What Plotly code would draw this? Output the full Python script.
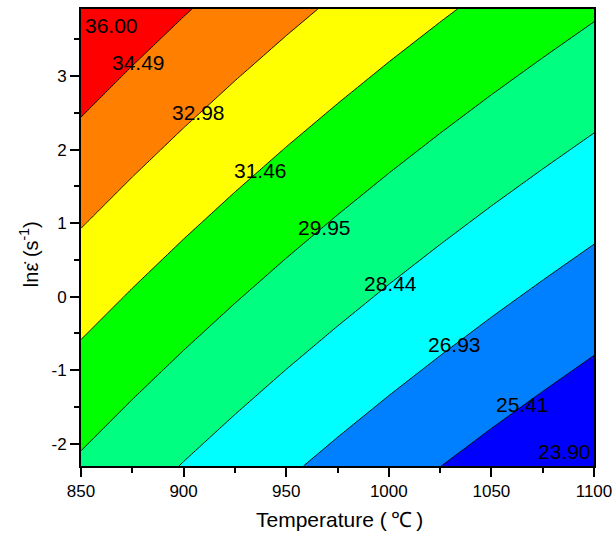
import plotly.graph_objects as go

# Temperature (°C) columns and ln(strain rate) rows of the grid
temperature = [850, 875, 900, 925, 950, 975, 1000, 1025, 1050, 1075, 1100]
ln_rate = [-2.303, -1, 0, 1, 2, 3, 3.912]

# values (one row per ln_rate entry)
z_row_m2303 = [29.743, 29.045, 28.377, 27.737, 27.123, 26.535, 25.968, 25.425, 24.901, 24.398, 23.909]
z_row_m1 = [31.046, 30.348, 29.680, 29.040, 28.426, 27.838, 27.271, 26.728, 26.204, 25.701, 25.212]
z_row_0 = [32.046, 31.348, 30.680, 30.040, 29.426, 28.838, 28.271, 27.728, 27.204, 26.701, 26.212]
z_row_1 = [33.046, 32.348, 31.680, 31.040, 30.426, 29.838, 29.271, 28.728, 28.204, 27.701, 27.212]
z_row_2 = [34.046, 33.348, 32.680, 32.040, 31.426, 30.838, 30.271, 29.728, 29.204, 28.701, 28.212]
z_row_3 = [35.046, 34.348, 33.680, 33.040, 32.426, 31.838, 31.271, 30.728, 30.204, 29.701, 29.212]
z_row_3912 = [35.958, 35.260, 34.592, 33.952, 33.338, 32.750, 32.183, 31.640, 31.116, 30.613, 30.124]

levels_start = 23.90
levels_end = 36.00
levels_step = 1.5125

# contour labels as shown in the picture (text, temperature, ln rate)
label_text = ["36.00", "34.49", "32.98", "31.46", "29.95", "28.44", "26.93", "25.41", "23.90"]
label_t = [865.0, 878.1, 907.3, 937.4, 968.7, 1000.7, 1032.2, 1065.0, 1085.5]
label_y = [3.694, 3.191, 2.503, 1.709, 0.942, 0.185, -0.648, -1.465, -2.104]

band_colors = ["#0000FF", "#0080FF", "#00FFFF", "#00FF80", "#00FF00", "#FFFF00", "#FF8000", "#FF0000"]

z = [z_row_m2303, z_row_m1, z_row_0, z_row_1, z_row_2, z_row_3, z_row_3912]

# stepwise colorscale matching plotly's fill colour mapping (nc = 9 levels)
nc = 9
colorscale = []
for k, c in enumerate(band_colors):
    lo = 0.0 if k == 0 else (k + 0.5) / nc
    hi = 1.0 if k == len(band_colors) - 1 else (k + 1.5) / nc
    colorscale.append([lo, c])
    colorscale.append([hi, c])

FONT = "Liberation Sans, Arial, sans-serif"

fig = go.Figure()
fig.add_trace(go.Contour(
    x=temperature, y=ln_rate, z=z,
    contours=dict(start=levels_start, end=levels_end, size=levels_step,
                  coloring="fill", showlabels=False),
    colorscale=colorscale,
    line=dict(color="black", width=0.9, smoothing=0),
    showscale=False,
    hoverinfo="skip",
))

for t, x, y in zip(label_text, label_t, label_y):
    fig.add_annotation(x=x, y=y, text=t, showarrow=False,
                       font=dict(family=FONT, size=21, color="black"),
                       xref="x", yref="y")

# axis titles
fig.add_annotation(xref="paper", yref="paper", x=0.503, y=-0.118,
                   text="Temperature (\u2009℃\u2009)",
                   showarrow=False, xanchor="center", yanchor="middle",
                   font=dict(family=FONT, size=21, color="black"))
fig.add_annotation(xref="paper", yref="paper", x=-0.101, y=0.464,
                   text="lnε̇ (s<sup>-1</sup>)", textangle=-90,
                   showarrow=False, xanchor="center", yanchor="middle",
                   font=dict(family=FONT, size=20, color="black"))

fig.update_layout(
    width=614, height=535,
    margin=dict(l=81, r=20, t=9, b=69),
    paper_bgcolor="white", plot_bgcolor="white",
    showlegend=False,
    font=dict(family=FONT, color="black"),
    xaxis=dict(
        range=[850, 1100], tickvals=[850, 900, 950, 1000, 1050, 1100],
        ticks="outside", ticklen=9, tickwidth=1.5, tickcolor="black",
        minor=dict(ticks="outside", ticklen=5, tickwidth=1.5, tickcolor="black", dtick=25, tick0=850),
        showline=True, linewidth=2, linecolor="black", mirror=True,
        showgrid=False, zeroline=False, automargin=False,
        tickfont=dict(size=17, family=FONT, color="black"),
    ),
    yaxis=dict(
        range=[-2.303, 3.912], tickvals=[-2, -1, 0, 1, 2, 3],
        ticktext=["-2", "-1", "0", "1", "2", "3"],
        ticks="outside", ticklen=9, tickwidth=1.5, tickcolor="black",
        minor=dict(ticks="outside", ticklen=5, tickwidth=1.5, tickcolor="black", dtick=0.5, tick0=0),
        showline=True, linewidth=2, linecolor="black", mirror=True,
        showgrid=False, zeroline=False, automargin=False,
        tickfont=dict(size=17, family=FONT, color="black"),
    ),
    yaxis2=dict(
        range=[-2.303, 3.912], overlaying="y", side="right", anchor="x",
        tickvals=[-2, -1.5, -1, -0.5, 0, 0.5, 1, 1.5, 2, 2.5, 3, 3.5],
        ticks="outside", ticklen=3, tickwidth=1.5, tickcolor="black",
        showticklabels=False, showgrid=False, zeroline=False, showline=False,
        automargin=False,
    ),
)

fig.write_html("out.html", config={"displayModeBar": False},
               post_script="document.body.style.margin='0';document.body.style.padding='0';")
